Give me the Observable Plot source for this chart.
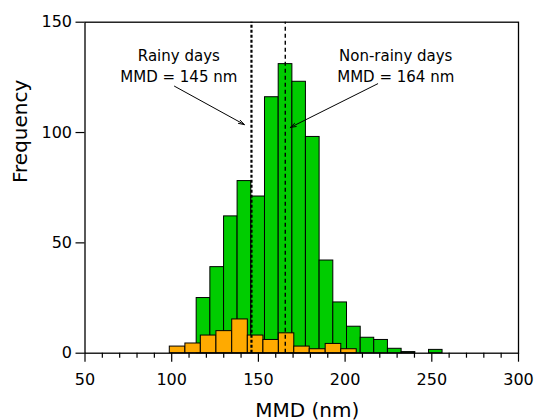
<!DOCTYPE html>
<html><head><meta charset="utf-8">
<script src="https://cdn.jsdelivr.net/npm/d3@7"></script>
<script src="https://cdn.jsdelivr.net/npm/@observablehq/plot@0.6"></script>
<style>html,body{margin:0;padding:0;background:#fff;}</style>
</head><body><div id="chart"></div>
<script>
// Non-rainy days histogram (green): bin edges (nm) and frequencies
const nonRainyEdges = [114.4,122.3,130.2,138.0,145.9,153.8,161.7,169.6,177.4,185.3,193.2,201.1,209.0,216.8,224.7,232.6,240.5,248.4,256.2];
const nonRainyCounts = [25,39,62,78,71,116,131,123,98,42,23,12,7,6,2,0.5,0,1.5];
// Rainy days histogram (orange)
const rainyEdges = [98.9,107.9,116.8,125.8,134.9,143.9,152.9,161.8,170.7,179.6,188.8,197.8,206.7];
const rainyCounts = [3,4.4,8,10,15.3,8,6,9,3,1.8,4.2,1.8];
// Median (MMD) markers
const rainyMMD = 146;
const nonRainyMMD = 165.5;
// Axis ticks
const xTicks = [50,100,150,200,250,300];
const xMinorTicks = [60,70,80,90,110,120,130,140,160,170,180,190,210,220,230,240,260,270,280,290];
const yTicks = [0,50,100,150];
// Annotations
const annLabels = ["Rainy days\nMMD = 145 nm", "Non-rainy days\nMMD = 164 nm"];
const annX = [104.1, 229.2];
const annY = [130.9, 130.9];
const arrowX1 = [101.6, 218.8];
const arrowY1 = [121, 122.1];
const arrowX2 = [141.9, 168.4];
const arrowY2 = [103.6, 102.3];

const toBins = (edges, counts) => counts.map((c, i) => ({x1: edges[i], x2: edges[i + 1], y: c}));
const green = toBins(nonRainyEdges, nonRainyCounts);
const orange = toBins(rainyEdges, rainyCounts);
const ann = annLabels.map((t, i) => ({t, x: annX[i], y: annY[i]}));
const arrows = arrowX1.map((x, i) => ({x1: x, y1: arrowY1[i], x2: arrowX2[i], y2: arrowY2[i]}));

const plot = Plot.plot({
  width: 534,
  height: 420,
  marginLeft: 84.5,
  marginRight: 16,
  marginTop: 21.7,
  marginBottom: 67.3,
  style: {fontFamily: "DejaVu Sans", fontSize: "16px", color: "black", background: "white", overflow: "visible"},
  x: {domain: [50, 300]},
  y: {domain: [0, 150]},
  marks: [
    Plot.rectY(green, {x1: "x1", x2: "x2", y: "y", fill: "#00cc00", stroke: "black", strokeWidth: 1, inset: 0}),
    Plot.rectY(orange, {x1: "x1", x2: "x2", y: "y", fill: "#ffaa00", stroke: "black", strokeWidth: 1, inset: 0}),
    Plot.ruleX([rainyMMD], {y1: 0, y2: 150, stroke: "black", strokeWidth: 2.2, strokeDasharray: "3,2"}),
    Plot.ruleX([nonRainyMMD], {y1: 0, y2: 150, stroke: "black", strokeWidth: 1.4, strokeDasharray: "4,3"}),
    Plot.frame({stroke: "black", strokeWidth: 1.3}),
    Plot.axisX({ticks: xMinorTicks, tickSize: 5, text: null, label: null, strokeWidth: 1.2}),
    Plot.axisX({ticks: xTicks, tickSize: 9, tickPadding: 11.5, label: null, strokeWidth: 1.2, tickFormat: d => String(d)}),
    Plot.axisY({ticks: yTicks, tickSize: 9, tickPadding: 4, label: null, strokeWidth: 1.2, tickFormat: d => String(d)}),
    Plot.arrow(arrows, {x1: "x1", y1: "y1", x2: "x2", y2: "y2", stroke: "black", strokeWidth: 1, headLength: 9, headAngle: 35}),
    Plot.text(ann, {x: "x", y: "y", text: "t", fontSize: 15, lineHeight: 1.4, lineAnchor: "middle", fill: "black"}),
    Plot.text(["Frequency"], {frameAnchor: "left", dx: -64, dy: -4.7, rotate: -90, fontSize: 20, fill: "black"}),
    Plot.text(["MMD (nm)"], {frameAnchor: "bottom", dx: 5.5, dy: 63.3, lineAnchor: "bottom", fontSize: 20, fill: "black"})
  ]
});
document.getElementById("chart").appendChild(plot);
</script>
</body></html>
